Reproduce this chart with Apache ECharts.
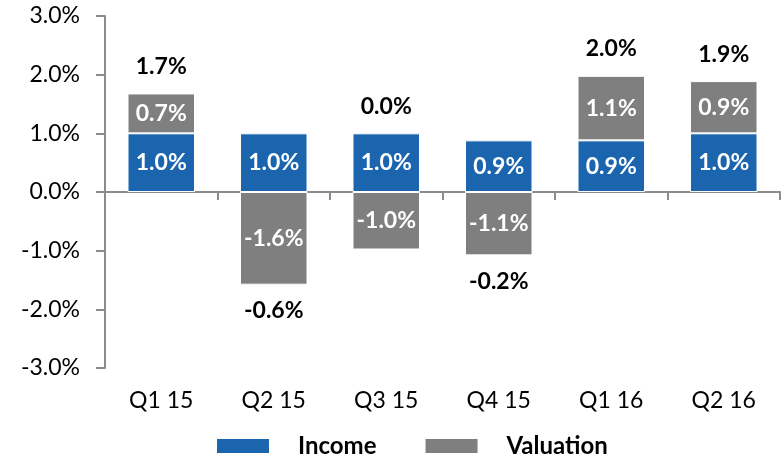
<!DOCTYPE html>
<html>
<head>
<meta charset="utf-8">
<script src="https://cdn.jsdelivr.net/npm/echarts@6/dist/echarts.min.js"></script>
<style>html,body{margin:0;padding:0;background:#fff;}#chart{width:781px;height:459px;}</style>
</head>
<body>
<div id="chart"></div>
<script>
var categories = ['Q1 15', 'Q2 15', 'Q3 15', 'Q4 15', 'Q1 16', 'Q2 16'];
var income = [1.0, 1.0, 1.0, 0.88, 0.88, 1.0];
var valuation = [0.68, -1.58, -0.98, -1.08, 1.1, 0.89];
var totals = [1.7, -0.6, 0.0, -0.2, 2.0, 1.9];
var yTicks = [-3, -2, -1, 0, 1, 2, 3];

var FONT = 'Lato';
var FS = 23;
var totalPoints = totals.map(function (t, i) {
  var pos = t >= 0;
  var anchor = pos ? income[i] + Math.max(valuation[i], 0) : Math.min(valuation[i], 0);
  return {
    value: [i, anchor],
    label: {
      show: true, position: pos ? 'top' : 'bottom', distance: pos ? 15 : 14, opacity: 1,
      color: '#000', fontFamily: FONT, fontSize: FS, fontWeight: 'bold',
      formatter: t.toFixed(1) + '%'
    }
  };
});

var chart = echarts.init(document.getElementById('chart'), null, { renderer: 'canvas' });
chart.setOption({
  animation: false,
  textStyle: { fontFamily: FONT },
  grid: { left: 105, right: 1, top: 16, bottom: 91 },
  legend: {
    data: ['Income', 'Valuation'],
    left: 210, top: 429,
    icon: 'rect', itemWidth: 54, itemHeight: 16, itemGap: 47,
    textStyle: { fontFamily: FONT, fontSize: 24, fontWeight: 'bold', color: '#000', padding: [0, 0, 0, 23] }
  },
  xAxis: [{
    type: 'category', data: categories, position: 'bottom',
    axisLine: { show: false, onZero: false }, axisTick: { show: false },
    axisLabel: { fontFamily: FONT, fontSize: FS, color: '#000', margin: 21 }
  }, {
    type: 'category', data: categories, position: 'bottom',
    axisLine: { show: true, onZero: true, lineStyle: { color: '#8c8c8c', width: 2 } },
    axisTick: { show: true, length: 8, lineStyle: { color: '#8c8c8c', width: 2 } },
    axisLabel: { show: false }
  }],
  yAxis: {
    type: 'value', min: yTicks[0], max: yTicks[yTicks.length - 1], interval: 1,
    axisLine: { show: true, lineStyle: { color: '#8c8c8c', width: 2 } },
    axisTick: { show: true, length: 9, lineStyle: { color: '#8c8c8c', width: 2 } },
    splitLine: { show: false },
    axisLabel: {
      fontFamily: FONT, fontSize: FS, color: '#000', margin: 25,
      formatter: function (v) { return v.toFixed(1) + '%'; }
    }
  },
  series: [{
    name: 'Income', type: 'bar', stack: 'total', data: income, barWidth: '60%',
    itemStyle: { color: '#1a65ae', borderColor: '#fff', borderWidth: 1 },
    label: {
      show: true, position: 'inside', color: '#fff', fontFamily: FONT, fontSize: FS, fontWeight: 'bold',
      formatter: function (p) { return p.value.toFixed(1) + '%'; }
    }
  }, {
    name: 'Valuation', type: 'bar', stack: 'total', data: valuation, barWidth: '60%',
    itemStyle: { color: '#7f7f7f', borderColor: '#fff', borderWidth: 1 },
    label: {
      show: true, position: 'inside', color: '#fff', fontFamily: FONT, fontSize: FS, fontWeight: 'bold',
      formatter: function (p) { return p.value.toFixed(1) + '%'; }
    }
  }, {
    name: 'Total', type: 'scatter', data: totalPoints, symbol: 'circle', symbolSize: 1,
    itemStyle: { color: 'rgba(255,255,255,0)', opacity: 1 }, silent: true
  }]
});
</script>
</body>
</html>
